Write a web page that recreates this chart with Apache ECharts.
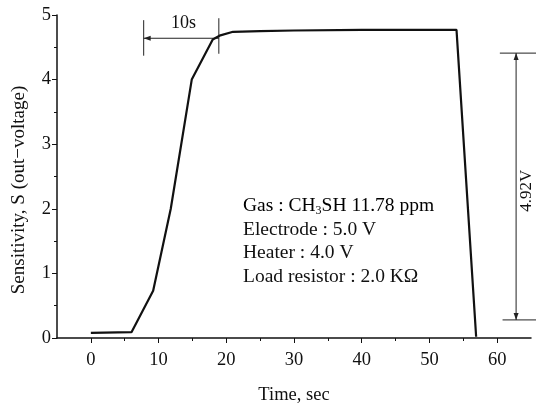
<!DOCTYPE html>
<html>
<head>
<meta charset="utf-8">
<script src="https://cdn.jsdelivr.net/npm/echarts@6/dist/echarts.min.js"></script>
<style>
  html, body { margin: 0; padding: 0; background: #fff; }
  #chart { width: 536px; height: 408px; }
</style>
</head>
<body>
<div id="chart"></div>
<script>
// response curve
const timeSec = [0, 6, 9.2, 11.8, 14.9, 18, 19, 21, 25, 30, 40, 50, 54, 56.9];
const sensitivity = [0.08, 0.09, 0.73, 2.0, 4.0, 4.62, 4.68, 4.74, 4.75, 4.76, 4.77, 4.77, 4.77, 0.02];

// axis ticks
const xTicks = [0, 10, 20, 30, 40, 50, 60];
const xMinorTicks = [5, 15, 25, 35, 45, 55];
const yTicks = [0, 1, 2, 3, 4, 5];

const font = 'Liberation Serif';
const ink = '#111';

const chart = echarts.init(document.getElementById('chart'), null, { renderer: 'canvas' });

const points = timeSec.map((t, i) => [t, sensitivity[i]]);

chart.setOption({
  animation: false,
  backgroundColor: '#fff',
  grid: { left: 57, right: 5, top: 15, bottom: 70, outerBoundsMode: 'none', containLabel: false },
  xAxis: [{
    type: 'value',
    min: -5,
    max: 65,
    interval: 5,
    axisLine: { onZero: false, lineStyle: { color: ink, width: 1.5 } },
    axisTick: { customValues: xTicks, length: 5, lineStyle: { color: ink } },
    axisLabel: { customValues: xTicks, margin: 13, color: ink, fontFamily: font, fontSize: 18.5 },
    splitLine: { show: false },
    name: 'Time, sec',
    nameLocation: 'middle',
    nameGap: 48,
    nameTextStyle: { color: ink, fontFamily: font, fontSize: 18.5 }
  }, {
    type: 'value',
    position: 'bottom',
    min: -5,
    max: 65,
    interval: 5,
    axisLine: { show: false, onZero: false },
    axisTick: { customValues: xMinorTicks, length: 3, lineStyle: { color: ink } },
    axisLabel: { show: false },
    splitLine: { show: false }
  }],
  yAxis: {
    type: 'value',
    min: yTicks[0],
    max: yTicks[yTicks.length - 1],
    interval: 1,
    axisLine: { show: true, onZero: false, lineStyle: { color: ink, width: 1.5 } },
    axisTick: { show: true, length: 5, lineStyle: { color: ink } },
    minorTick: { show: true, splitNumber: 2, length: 3, lineStyle: { color: ink } },
    axisLabel: { margin: 6, color: ink, fontFamily: font, fontSize: 18.5 },
    splitLine: { show: false }
  },
  series: [{
    type: 'line',
    data: points,
    showSymbol: false,
    symbol: 'none',
    lineStyle: { color: ink, width: 2.2 },
    clip: false
  }]
});

// annotations, placed in data space
const px = (x, y) => chart.convertToPixel({ xAxisIndex: 0, yAxisIndex: 0 }, [x, y]);
function seg(a, b, w) {
  const p = px(a[0], a[1]), q = px(b[0], b[1]);
  return { type: 'line', shape: { x1: p[0], y1: p[1], x2: q[0], y2: q[1] },
           style: { stroke: '#222', lineWidth: w || 1 }, silent: true };
}
function head(tip, dir) {
  // dir: unit direction the arrow points to
  const p = px(tip[0], tip[1]);
  const L = 7, W = 2.5;
  const bx = p[0] - dir[0] * L, by = p[1] - dir[1] * L;
  return { type: 'polygon', shape: { points: [
      [p[0], p[1]], [bx - dir[1] * W, by + dir[0] * W], [bx + dir[1] * W, by - dir[0] * W]] },
    style: { fill: '#222' }, silent: true };
}
function label(x, y, text, size, rot) {
  const p = px(x, y);
  return { type: 'text', x: p[0], y: p[1], rotation: rot || 0, silent: true,
    style: { text: text, fill: ink, font: size + 'px "' + font + '"', align: 'center', verticalAlign: 'middle' } };
}

const g = [];
// 10s response marker
g.push(seg([7.8, 4.92], [7.8, 4.37]));
g.push(seg([18.9, 4.95], [18.9, 4.4]));
g.push(seg([18.9, 4.64], [7.8, 4.64]));
g.push(head([7.8, 4.64], [-1, 0]));
g.push(label(13.7, 4.87, '10s', 18));
// 4.92 V span marker
g.push(seg([60.4, 4.41], [66.5, 4.41]));
g.push(seg([60.8, 0.28], [66.5, 0.28]));
g.push(seg([62.8, 4.41], [62.8, 0.28]));
g.push(head([62.8, 4.41], [0, -1]));
g.push(head([62.8, 0.28], [0, 1]));
g.push(label(64.4, 2.28, '4.92V', 17, Math.PI / 2));
// y axis title
g.push({ type: 'text', x: 19, y: 190, rotation: Math.PI / 2, silent: true,
  style: { text: 'Sensitivity, S (out\u2212voltage)', fill: ink, font: '19px "' + font + '"',
           align: 'center', verticalAlign: 'middle' } });
// conditions text block
const condLines = ['Electrode : 5.0 V', 'Heater : 4.0 V', 'Load resistor : 2.0 K\u03A9'];
g.push({ type: 'text', x: 243, y: 206, silent: true,
  style: { text: '{a|Gas : CH}{s|3}{a|SH 11.78 ppm}', align: 'left', verticalAlign: 'middle',
    rich: { a: { fontFamily: font, fontSize: 19.5, color: ink },
            s: { fontFamily: font, fontSize: 12, color: ink, padding: [10, 0, 0, 0] } } } });
condLines.forEach((t, i) => {
  g.push({ type: 'text', x: 243, y: 229.5 + i * 23.5, silent: true,
    style: { text: t, fill: ink, font: '19.5px "' + font + '"', align: 'left', verticalAlign: 'middle' } });
});

chart.setOption({ graphic: g });
</script>
</body>
</html>
